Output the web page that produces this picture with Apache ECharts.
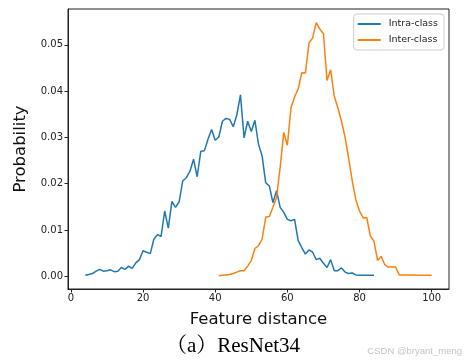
<!DOCTYPE html>
<html><head><meta charset="utf-8">
<script src="https://cdn.jsdelivr.net/npm/echarts@6/dist/echarts.min.js"></script>
<style>html,body{margin:0;padding:0;background:#fff}#c{width:464px;height:362px}</style>
</head><body><div id="c"></div>
<script>
const intraX = [];
for (let i = 4; i <= 84; i++) intraX.push(i);
const intraY = [0.0002,0.0004,0.0006,0.0011,0.0015,0.0011,0.0012,0.0014,0.0010,0.0011,
0.0019,0.0015,0.0022,0.0017,0.0029,0.0036,0.0055,0.0052,0.0049,0.0080,
0.0090,0.0086,0.0141,0.0104,0.0162,0.0149,0.0161,0.0206,0.0213,0.0227,
0.0253,0.0215,0.0270,0.0271,0.0296,0.0317,0.0294,0.0301,0.0335,0.0341,
0.0339,0.0323,0.0349,0.0392,0.0299,0.0335,0.0313,0.0337,0.0285,0.0260,
0.0202,0.0195,0.0159,0.0185,0.0149,0.0138,0.0123,0.0120,0.0123,0.0077,
0.0062,0.0048,0.0057,0.0052,0.0036,0.0039,0.0028,0.0019,0.0036,0.0012,
0.0012,0.0018,0.0009,0.0006,0.0007,0.0003,0.0002,0.0002,0.0002,0.0002,0.0002];
const interX = [];
for (let i = 41; i <= 100; i++) interX.push(i);
const interY = [0.0001,0.0002,0.0003,0.0004,0.0006,0.0009,0.0012,0.0012,0.0022,0.0034,
0.0060,0.0066,0.0080,0.0128,0.0129,0.0149,0.0170,0.0235,0.0311,0.0283,
0.0364,0.0388,0.0405,0.0440,0.0439,0.0504,0.0515,0.0548,0.0534,0.0524,
0.0423,0.0446,0.0389,0.0364,0.0335,0.0300,0.0255,0.0205,0.0165,0.0141,
0.0126,0.0127,0.0087,0.0076,0.0034,0.0043,0.0025,0.0020,0.0020,0.0020,
0.0003,0.0003,0.0003,0.0003,0.0003,0.0002,0.0002,0.0002,0.0002,0.0002];
const xTicks = [0, 20, 40, 60, 80, 100];
const yTicks = [0, 0.01, 0.02, 0.03, 0.04, 0.05];
const seriesNames = ['Intra-class', 'Inter-class'];

const chart = echarts.init(document.getElementById('c'), null, {renderer: 'canvas'});
const font = "'DejaVu Sans', sans-serif";
const axisCol = '#222';
chart.setOption({
  animation: false,
  backgroundColor: '#fff',
  grid: {left: 68, top: 9, right: 15, bottom: 73, show: true, borderColor: axisCol, borderWidth: 1, backgroundColor: 'transparent'},
  legend: {
    data: seriesNames, orient: 'vertical', right: 20, top: 14,
    icon: 'rect', itemWidth: 23, itemHeight: 2, itemGap: 6,
    backgroundColor: '#fff', borderColor: '#ccc', borderWidth: 1, borderRadius: 3,
    padding: [5, 6, 5, 4],
    textStyle: {fontFamily: font, fontSize: 9.5, color: '#222', padding: [0, 0, 0, 3]}
  },
  xAxis: {
    type: 'value', min: -0.8, max: 104.8,
    name: 'Feature distance', nameLocation: 'middle', nameGap: 22,
    nameTextStyle: {fontFamily: font, fontSize: 16.5, color: '#111'},
    axisLine: {show: true, onZero: false, lineStyle: {color: axisCol, width: 1}},
    axisTick: {show: true, length: 3.5, customValues: xTicks, lineStyle: {color: axisCol}},
    axisLabel: {customValues: xTicks, fontFamily: font, fontSize: 10, color: '#222', margin: 4},
    splitLine: {show: false}
  },
  yAxis: {
    type: 'value', min: -0.00275, max: 0.05775,
    name: 'Probability', nameLocation: 'middle', nameGap: 39,
    nameTextStyle: {fontFamily: font, fontSize: 16.5, color: '#111'},
    axisLine: {show: true, onZero: false, lineStyle: {color: axisCol, width: 1}},
    axisTick: {show: true, length: 3.5, customValues: yTicks, lineStyle: {color: axisCol}},
    axisLabel: {customValues: yTicks, fontFamily: font, fontSize: 10, color: '#222', margin: 5,
      formatter: v => v.toFixed(2)},
    splitLine: {show: false}
  },
  series: [
    {name: seriesNames[0], type: 'line', data: intraX.map((x, i) => [x, intraY[i]]),
     symbol: 'none', lineStyle: {color: '#1f77b4', width: 1.5}, itemStyle: {color: '#1f77b4'}},
    {name: seriesNames[1], type: 'line', data: interX.map((x, i) => [x, interY[i]]),
     symbol: 'none', lineStyle: {color: '#ff7f0e', width: 1.5}, itemStyle: {color: '#ff7f0e'}}
  ],
  graphic: [
    {type: 'text', x: 233, y: 346, style: {text: '（a）ResNet34', textAlign: 'center', textVerticalAlign: 'middle',
      font: "21px 'Liberation Serif', 'Noto Serif CJK SC', 'Noto Sans CJK SC', serif", fill: '#000'}, z: 10},
    {type: 'text', x: 462, y: 351, style: {text: 'CSDN @bryant_meng', textAlign: 'right', textVerticalAlign: 'middle',
      font: "9.5px 'Liberation Sans', sans-serif", fill: '#c4c4c4'}, z: 10}
  ]
});
</script></body></html>
